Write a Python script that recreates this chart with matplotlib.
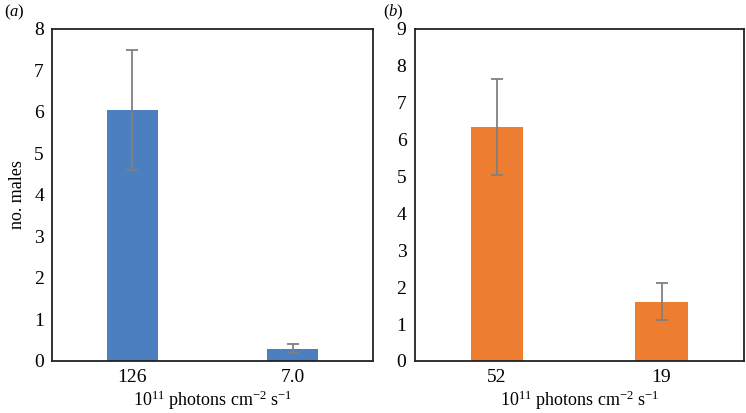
import matplotlib

matplotlib.use("Agg")

import matplotlib.pyplot as plt

plt.rcParams["font.family"] = ["Liberation Serif", "DejaVu Serif"]
plt.rcParams["mathtext.fontset"] = "custom"
plt.rcParams["mathtext.rm"] = "Liberation Serif"
plt.rcParams["mathtext.it"] = "Liberation Serif:italic"

# panel (a)
labels_a = ["126", "7.0"]
values_a = [6.05, 0.30]
errors_a = [1.44, 0.12]

# panel (b)
labels_b = ["52", "19"]
values_b = [6.35, 1.60]
errors_b = [1.30, 0.50]

BLUE = "#4b7fbf"
ORANGE = "#ed7d31"
XLABEL = "10$^{11}$ photons cm$^{-2}$ s$^{-1}$"


def draw_panel(ax, labels, values, errors, color, ymax):
    x = range(len(labels))
    ax.bar(x, values, width=0.32, color=color, zorder=2)
    ax.errorbar(x, values, yerr=errors, fmt="none", ecolor="#808080",
                elinewidth=1.3, capsize=4, capthick=1.3, zorder=3)
    ax.set_xlim(-0.5, len(labels) - 0.5)
    ax.set_ylim(0, ymax)
    ax.set_yticks(range(ymax + 1))
    ax.set_xticks(list(x))
    ax.set_xticklabels(labels)
    ax.tick_params(axis="both", length=0, labelsize=14, pad=6)
    for spine in ax.spines.values():
        spine.set_linewidth(1.3)
        spine.set_color("#222222")
    ax.set_xlabel(XLABEL, fontsize=13, labelpad=2)


fig = plt.figure(figsize=(7.46, 4.13), dpi=100)
ax_a = fig.add_axes([0.070, 0.126, 0.430, 0.804])
ax_b = fig.add_axes([0.556, 0.126, 0.441, 0.804])

draw_panel(ax_a, labels_a, values_a, errors_a, BLUE, 8)
draw_panel(ax_b, labels_b, values_b, errors_b, ORANGE, 9)
ax_a.set_ylabel("no. males", fontsize=13, labelpad=6)

fig.text(0.006, 0.97, "($a$)", fontsize=12, va="center")
fig.text(0.513, 0.97, "($b$)", fontsize=12, va="center")

fig.savefig("out.png", dpi=100)
